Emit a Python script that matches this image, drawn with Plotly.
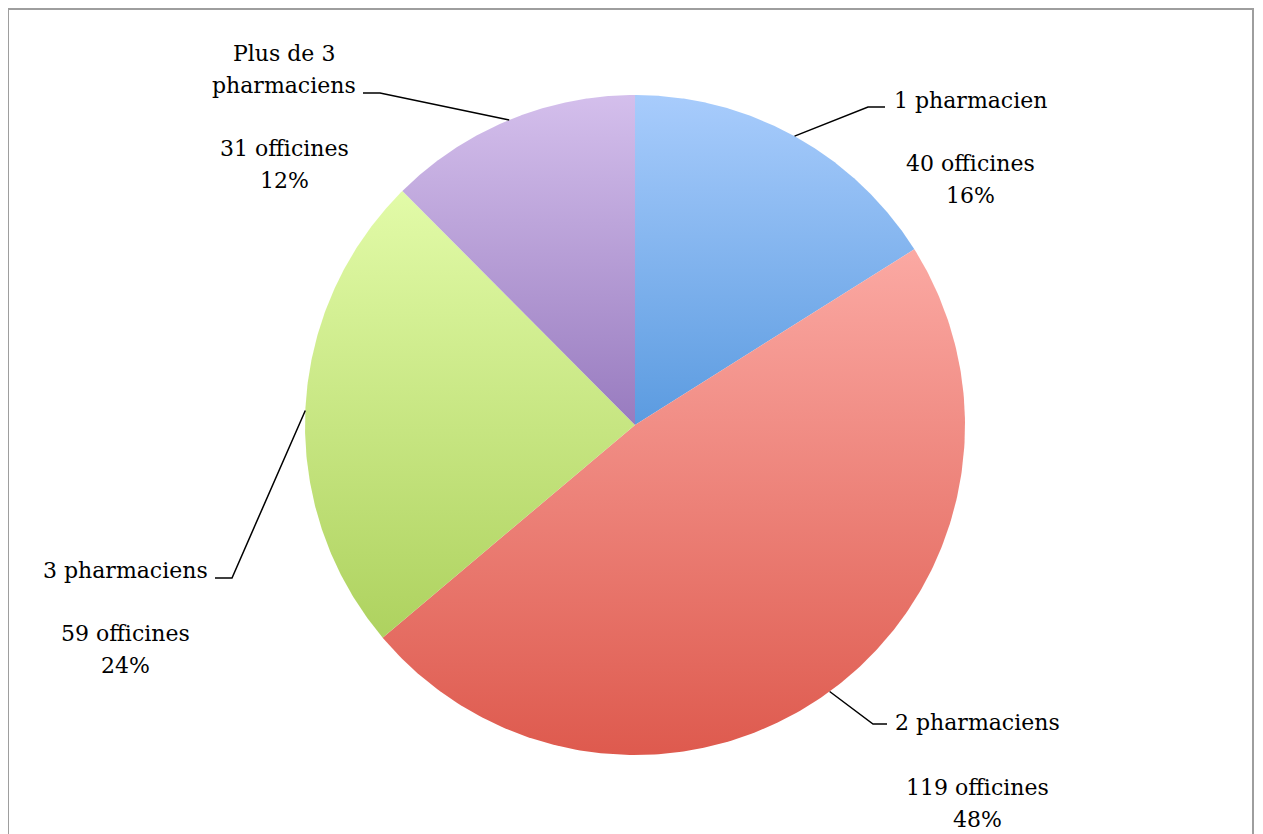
import numpy as np
import plotly.graph_objects as go

# data
categories = ["1 pharmacien", "2 pharmaciens", "3 pharmaciens", "Plus de 3 pharmaciens"]
label_lines = [["1 pharmacien"], ["2 pharmaciens"], ["3 pharmaciens"], ["Plus de 3", "pharmaciens"]]
officines = [40, 119, 59, 31]
# vertical gradient of each slice (top, bottom), as in the office-style chart
gradients = [("#A8CCFC", "#5B9BE0"), ("#FBA9A3", "#DE5A4E"),
             ("#E2FBA8", "#AED25F"), ("#D4BFEC", "#987BBF")]

W, H = 1263, 834
OFF = 8  # page body margin: axes below work in page pixels
CX, CY, R = 635, 425, 330
FONT = "DejaVu Serif"
LINE = 32

# label placement in page pixels
placement = [
    dict(x=970, ly=100, vy=163, elbow=(868, 107), end=(885, 107)),
    dict(x=977, ly=722, vy=787, elbow=(873, 724), end=(887, 724)),
    dict(x=125, ly=570, vy=633, elbow=(232, 578), end=(215, 578)),
    dict(x=284, ly=53, vy=148, elbow=(380, 93), end=(363, 93)),
]

total = sum(officines)
pcts = [v / total for v in officines]

fig = go.Figure()

annotations = []
shapes = []
cum = 0.0
for name, lines, v, p, pl, (top, bot) in zip(categories, label_lines, officines, pcts,
                                              placement, gradients):
    a0, a1 = cum * 2 * np.pi, (cum + p) * 2 * np.pi
    mid = (a0 + a1) / 2
    cum += p

    # slice with its vertical gradient (clockwise from 12 o'clock)
    t = np.linspace(a0, a1, 240)
    xs = np.concatenate([[CX], CX + R * np.sin(t), [CX]])
    ys = np.concatenate([[CY], CY - R * np.cos(t), [CY]])
    fig.add_trace(go.Scatter(
        x=xs, y=ys, mode="lines", fill="toself", line=dict(width=0), name=name,
        fillgradient=dict(type="vertical", colorscale=[[0, top], [1, bot]],
                          start=float(ys.min()), stop=float(ys.max())),
        hoveron="fills", hoverinfo="name", showlegend=False,
    ))

    ex, ey = CX + R * np.sin(mid), CY - R * np.cos(mid)
    pts = [(ex, ey), pl["elbow"], pl["end"]]
    path = "M " + " L ".join(f"{a:.2f},{b:.2f}" for a, b in pts)
    shapes.append(dict(type="path", xref="x", yref="y", path=path,
                       line=dict(color="black", width=1.5)))

    text_rows = [(s, pl["ly"] + i * LINE) for i, s in enumerate(lines)]
    text_rows += [(f"{v} officines", pl["vy"]), (f"{round(p * 100)}%", pl["vy"] + LINE)]
    for s, y in text_rows:
        annotations.append(dict(x=pl["x"], y=y, xref="x", yref="y",
                                text=s, showarrow=False, xanchor="center", yanchor="middle",
                                font=dict(family=FONT, size=22, color="black")))

# frame (right edge kept inside the visible page)
shapes.append(dict(type="rect", xref="x", yref="y", x0=8, x1=1253, y0=9, y1=860,
                   line=dict(color="#9E9E9E", width=2)))

fig.update_layout(
    width=W, height=H,
    margin=dict(l=0, r=0, t=0, b=0),
    paper_bgcolor="white", plot_bgcolor="rgba(0,0,0,0)",
    xaxis=dict(range=[OFF, OFF + W], visible=False, fixedrange=True),
    yaxis=dict(range=[OFF + H, OFF], visible=False, fixedrange=True),
    annotations=annotations, shapes=shapes,
)

fig.write_html("out.html")
